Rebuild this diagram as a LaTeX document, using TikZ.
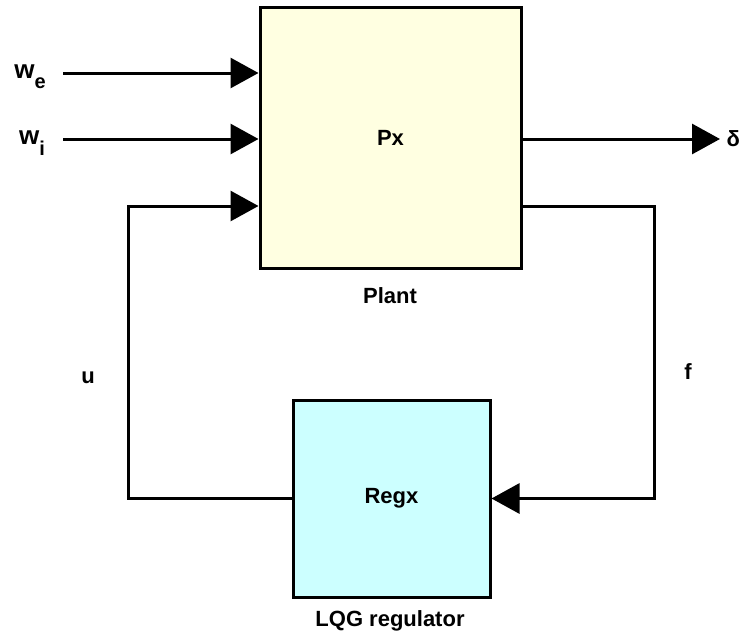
\documentclass[tikz,border=0pt]{standalone}
\usepackage{fontspec}
\setmainfont{Liberation Sans}
\usetikzlibrary{arrows.meta,positioning}
\definecolor{plantcol}{RGB}{255,255,225}
\definecolor{regcol}{RGB}{204,255,255}
\newcommand{\lowidx}[1]{\raisebox{-0.75ex}{\fontsize{20}{24}\selectfont #1}}

\begin{document}
\begin{tikzpicture}[x=1pt, y=-1pt,
    every node/.style={font=\fontsize{22}{26}\selectfont\bfseries},
    blockbox/.style={draw, line width=3pt, inner sep=0pt},
    sig/.style={line width=3pt, -{Triangle[length=28pt,width=30pt]}},
    inlbl/.style={font=\fontsize{26}{30}\selectfont\bfseries}]
  \useasboundingbox (0,0) rectangle (746,634);
  % blocks
  \node[blockbox, fill=plantcol, minimum width=261pt, minimum height=260pt] (plant) at (390.5,138) {Px};
  \node[blockbox, fill=regcol, minimum width=197pt, minimum height=197pt] (regx) at (391.5,498.5) {Regx};
  \node (plantlbl) at (390,296) {Plant};
  \node (reglbl) at (390,621) {LQG regulator};
  % inputs and output
  \coordinate (we) at (63,73);
  \coordinate (wi) at (63,139);
  \coordinate (dout) at (720,139);
  \draw[sig] (we) -- (we -| plant.west);
  \draw[sig] (wi) -- (wi -| plant.west);
  \draw[sig] (dout -| plant.east) -- (dout);
  \node[inlbl] (welbl) at (30,77) {w\lowidx{e}};
  \node[inlbl] (wilbl) at (32,143) {w\lowidx{i}};
  \node[right=3pt of dout] (dlbl) {δ};
  % feedback loop
  \draw[sig] ([yshift=-68pt]plant.east) -- ++(132,0) |- (regx.east);
  \draw[sig] (regx.west) -- ++(-163,0) |- ([yshift=-68pt]plant.west);
  \node (ulbl) at (88,378) {u};
  \node (flbl) at (688,372) {f};
\end{tikzpicture}
\end{document}
